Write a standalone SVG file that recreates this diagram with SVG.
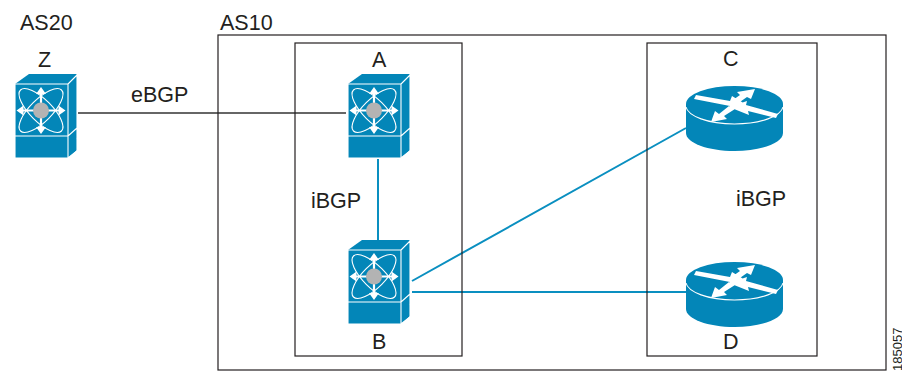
<svg xmlns="http://www.w3.org/2000/svg" width="902" height="371" viewBox="0 0 902 371">
<style>
text{font-family:"Liberation Sans",Arial,sans-serif;font-size:21.5px;fill:#231f20}
.box{fill:none;stroke:#231f20;stroke-width:1.2}
.blue{fill:none;stroke:#0a8fc0;stroke-width:2}
.blk{fill:none;stroke:#333;stroke-width:1.4}
.b{fill:#0386b8}
.w{fill:#fff;stroke:none}
.wl{fill:none;stroke:#fff;stroke-width:1.1}
.wm{fill:none;stroke:#fff;stroke-width:2.2}
</style>
<defs>
<symbol id="sw" width="64" height="86" viewBox="0 0 64 86" overflow="visible">
<path class="b" d="M0 10L14 0H62V64L53 84H0Z"/>
<path class="b" d="M53 84L62 76V64L53 73Z"/>
<path class="wl" d="M0 10H53V84H0ZM0 62H53M53 10L62 1M53 62L62 54M53 84L62 77V0"/>
<g class="wl">
<ellipse cx="26" cy="36.5" rx="29" ry="11" transform="rotate(45 26 36.5)"/>
<ellipse cx="26" cy="36.5" rx="29" ry="11" transform="rotate(-45 26 36.5)"/>
</g>
<path class="wm" d="M26 18V55M6 36.5H46"/>
<path class="w" d="M26 13l5 7h-10zM26 60l5-7h-10zM1.500 36.500l7-5v10zM50.500 36.500l-7-5v10z"/>
<circle cx="26" cy="36.500" r="8" fill="#b3b3b3"/>
</symbol>
<symbol id="rt" width="98" height="66" viewBox="0 0 98 66" overflow="visible">
<path class="b" d="M0 18V47C0 57 22 65 48.500 65S97 57 97 47V18Z"/>
<ellipse class="b" cx="48.500" cy="18" rx="48.500" ry="18"/>
<path class="wl" d="M0 21C2 30 22 38 48.500 38S95 30 97 21"/>
<path class="w" d="M6 12L8 8 42 14 44 9 58 17.500 42 24 42 19ZM42 15L52 8 49 5 67 2 63 12 59 10 49 17ZM90 27L88 31 60 24 61 28 41 20 59 14 58 18ZM47 22L36 29 39 32 23 35 27 24 31 27 41 19Z" transform="translate(2 1)"/>
</symbol>
</defs>
<g id="connectors">
<path class="blk" d="M78 113H346"/>
<path class="blue" d="M378 159V240M412 281L686 128M412 292H686"/>
</g>
<g id="AS10"><rect class="box" x="218" y="35" width="668" height="335"/><text x="220" y="30">AS10</text></g>
<g id="AS20"><text x="20" y="30">AS20</text></g>
<g id="group-AB"><rect class="box" x="295" y="43" width="167" height="313"/></g>
<g id="group-CD"><rect class="box" x="647" y="43" width="170" height="313"/></g>
<g id="Z"><use href="#sw" x="15" y="74"/><text x="38" y="67">Z</text></g>
<g id="A"><use href="#sw" x="348" y="74"/><text x="372" y="67">A</text></g>
<g id="B"><use href="#sw" x="348" y="240"/><text x="372" y="349">B</text></g>
<g id="C"><use href="#rt" x="686" y="86"/><text x="723" y="66">C</text></g>
<g id="D"><use href="#rt" x="686" y="262"/><text x="723" y="349">D</text></g>
<text x="131" y="102">eBGP</text>
<text x="311" y="208">iBGP</text>
<text x="736" y="206">iBGP</text>
<text x="0" y="0" transform="translate(902 371) rotate(-90)" style="font-size:13px">185057</text>
</svg>
